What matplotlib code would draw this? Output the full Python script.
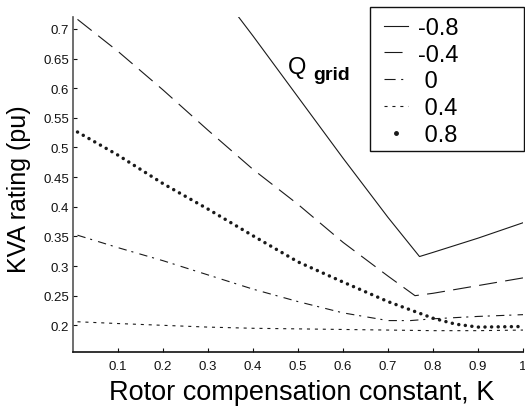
import matplotlib
matplotlib.use("Agg")
import matplotlib.pyplot as plt
from matplotlib.lines import Line2D
from matplotlib.patches import Rectangle

plt.rcParams["font.family"] = ["Liberation Sans", "DejaVu Sans"]
plt.rcParams["lines.scale_dashes"] = False

# --- values ---
k_m08 = [0.35, 0.40, 0.50, 0.60, 0.70, 0.77, 0.80, 0.90, 1.00]
kva_m08 = [0.738, 0.688, 0.585, 0.482, 0.382, 0.316, 0.323, 0.347, 0.373]

k_m04 = [0.01, 0.10, 0.20, 0.30, 0.40, 0.50, 0.60, 0.70, 0.76, 0.80, 0.90, 1.00]
kva_m04 = [0.716, 0.662, 0.597, 0.529, 0.463, 0.404, 0.340, 0.283, 0.250, 0.254, 0.267, 0.280]

k_0 = [0.01, 0.10, 0.20, 0.30, 0.40, 0.50, 0.60, 0.70, 0.75, 0.80, 0.90, 1.00]
kva_0 = [0.352, 0.331, 0.309, 0.285, 0.261, 0.240, 0.221, 0.208, 0.208, 0.211, 0.215, 0.218]

k_04 = [0.01, 0.10, 0.20, 0.30, 0.40, 0.50, 0.60, 0.70, 0.80, 0.90, 1.00]
kva_04 = [0.206, 0.203, 0.200, 0.197, 0.195, 0.194, 0.193, 0.192, 0.191, 0.191, 0.192]

k_08 = [0.01, 0.10, 0.20, 0.30, 0.40, 0.50, 0.60, 0.70, 0.80, 0.85, 0.90, 1.00]
kva_08 = [0.526, 0.487, 0.439, 0.396, 0.351, 0.307, 0.273, 0.240, 0.212, 0.202, 0.197, 0.198]

legend_labels = ["-0.8", "-0.4", " 0", " 0.4", " 0.8"]
x_ticks = [0.1, 0.2, 0.3, 0.4, 0.5, 0.6, 0.7, 0.8, 0.9, 1.0]
x_ticklabels = ["0.1", "0.2", "0.3", "0.4", "0.5", "0.6", "0.7", "0.8", "0.9", "1"]
y_ticks = [0.2, 0.25, 0.3, 0.35, 0.4, 0.45, 0.5, 0.55, 0.6, 0.65, 0.7]
y_ticklabels = ["0.2", "0.25", "0.3", "0.35", "0.4", "0.45", "0.5", "0.55", "0.6", "0.65", "0.7"]

LC = "#1a1a1a"
LW = 0.8
S_M08 = "-"
S_M04 = (0, (13, 6))
S_0 = (0, (6, 3.5, 1.5, 4.5))
S_04 = (0, (2.2, 3.5))
S_08 = (0, (0.05, 4.7))

fig = plt.figure(figsize=(5.25, 4.14), dpi=100)
ax = fig.add_axes([73 / 525, 1 - 353 / 414, 450 / 525, (353 - 18) / 414])

ax.plot(k_m08, kva_m08, color=LC, lw=LW, linestyle=S_M08)
ax.plot(k_m04, kva_m04, color=LC, lw=LW, linestyle=S_M04)
ax.plot(k_0, kva_0, color=LC, lw=LW, linestyle=S_0)
ax.plot(k_04, kva_04, color=LC, lw=LW, linestyle=S_04)
ax.plot(k_08, kva_08, color=LC, lw=2.5, linestyle=S_08, dash_capstyle="round")

ax.set_xlim(0.0, 1.0)
ax.set_ylim(0.155, 0.72)
ax.set_xticks(x_ticks)
ax.set_xticklabels(x_ticklabels)
ax.set_yticks(y_ticks)
ax.set_yticklabels(y_ticklabels)
ax.tick_params(direction="in", length=3, width=0.8, labelsize=9.5, colors="#111111")
ax.tick_params(axis="x", pad=6)
ax.tick_params(axis="y", pad=3)

ax.spines["top"].set_visible(False)
ax.spines["right"].set_visible(False)
ax.spines["left"].set_color("#555555")
ax.spines["left"].set_linewidth(1.2)
ax.spines["bottom"].set_color("#111111")
ax.spines["bottom"].set_linewidth(1.2)

ax.set_xlabel("Rotor compensation constant, K", fontsize=19.5)
ax.xaxis.set_label_coords(0.509, -0.08)
ax.set_ylabel("KVA rating (pu)", fontsize=18)
ax.yaxis.set_label_coords(-0.093, 0.49)

ax.text(0.478, 0.626, "Q", fontsize=17, ha="left", va="baseline")
ax.text(0.533, 0.616, "grid", fontsize=14, fontweight="bold", ha="left", va="baseline")

# legend box drawn separately so the entries can sit with a wider left margin
fig.patches.append(Rectangle((370 / 525, 1 - 152 / 414), 154 / 525, 144 / 414,
                             transform=fig.transFigure, facecolor="white",
                             edgecolor="#111111", lw=1.0, zorder=5))
handles = [
    Line2D([], [], color=LC, lw=LW, linestyle=S_M08),
    Line2D([], [], color=LC, lw=LW, linestyle=S_M04),
    Line2D([], [], color=LC, lw=LW, linestyle=(0, (8, 4, 1.5, 4))),
    Line2D([], [], color=LC, lw=LW, linestyle=S_04),
    Line2D([], [], color=LC, marker="o", markersize=2.5, linestyle="none"),
]
leg = fig.legend(handles, legend_labels, loc="upper left",
                 bbox_to_anchor=(384 / 525, 1 - 18 / 414),
                 bbox_transform=fig.transFigure, borderaxespad=0, borderpad=0,
                 fontsize=17, handlelength=1.0, handletextpad=0.45, labelspacing=0.2,
                 frameon=False)
leg.set_zorder(6)

fig.savefig("out.png", dpi=100)
